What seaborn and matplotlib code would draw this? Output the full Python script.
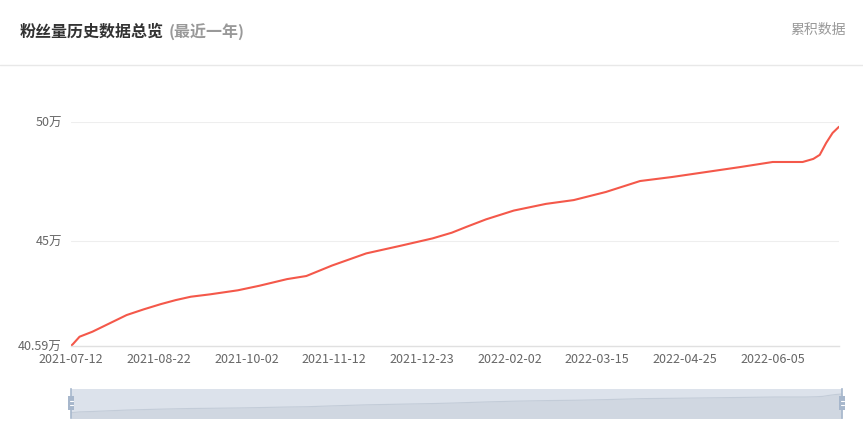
import pandas as pd
import matplotlib.pyplot as plt
import matplotlib.ticker as mticker
from matplotlib.patches import Rectangle
import seaborn as sns

# Data (fans, in 万)
dates = ['2021-07-12', '2021-07-13', '2021-07-16', '2021-07-22', '2021-07-30',
         '2021-08-07', '2021-08-15', '2021-08-23', '2021-08-30', '2021-09-06',
         '2021-09-15', '2021-09-28', '2021-10-08', '2021-10-21', '2021-10-30',
         '2021-11-11', '2021-11-27', '2021-12-13', '2021-12-28', '2022-01-06',
         '2022-01-13', '2022-01-22', '2022-02-04', '2022-02-19', '2022-03-04',
         '2022-03-19', '2022-04-04', '2022-04-19', '2022-05-05', '2022-05-21',
         '2022-06-05', '2022-06-19', '2022-06-24', '2022-06-27', '2022-06-30',
         '2022-07-03', '2022-07-06']
fans_wan = [40.59, 40.68, 40.98, 41.19, 41.54,
            41.89, 42.13, 42.35, 42.52, 42.66,
            42.76, 42.93, 43.12, 43.40, 43.53,
            43.97, 44.48, 44.80, 45.11, 45.35,
            45.60, 45.91, 46.28, 46.56, 46.72,
            47.06, 47.52, 47.69, 47.90, 48.11,
            48.32, 48.32, 48.45, 48.62, 49.12,
            49.54, 49.80]
tick_dates = ['2021-07-12', '2021-08-22', '2021-10-02', '2021-11-12', '2021-12-23',
              '2022-02-02', '2022-03-15', '2022-04-25', '2022-06-05']
y_ticks = [40.59, 45, 50]

title = '粉丝量历史数据总览'
subtitle = '(最近一年)'
right_label = '累积数据'

df = pd.DataFrame({'date': pd.to_datetime(dates), 'fans': fans_wan})

sns.set_theme(style='white')
plt.rcParams['font.family'] = ['Noto Sans CJK SC', 'DejaVu Sans']

W, H = 863, 437
fig = plt.figure(figsize=(W / 100, H / 100), dpi=100)

line_color = '#f4584a'

# main chart
ax = fig.add_axes([71 / W, 1 - 346 / H, (839 - 71) / W, (346 - 122) / H])
sns.lineplot(data=df, x='date', y='fans', ax=ax, color=line_color, linewidth=1.5)
ax.set_xlim(df['date'].iloc[0], df['date'].iloc[-1])
ax.set_ylim(40.59, 50)
ax.set_yticks(y_ticks)
ax.yaxis.set_major_formatter(mticker.FuncFormatter(
    lambda v, p: f'{v:g}万'))
ax.set_xticks(pd.to_datetime(tick_dates))
ax.set_xticklabels(tick_dates)
ax.tick_params(axis='both', length=0, labelsize=9, labelcolor='#666666')
ax.tick_params(axis='x', pad=5)
ax.tick_params(axis='y', pad=6.5)
ax.set_xlabel('')
ax.set_ylabel('')
for side in ['top', 'right', 'left']:
    ax.spines[side].set_visible(False)
ax.spines['bottom'].set_color('#e0e0e0')
ax.spines['bottom'].set_linewidth(1)
for v in y_ticks[1:]:
    ax.axhline(v, color='#eeeeee', linewidth=0.8, zorder=0)

# header
fig.text(20 / W, 1 - 32 / H, title, fontsize=11.5, fontweight='bold',
         color='#333333', va='center', ha='left')
fig.text(169 / W, 1 - 32 / H, subtitle, fontsize=11.5, fontweight='bold',
         color='#999999', va='center', ha='left')
fig.text(846 / W, 1 - 30 / H, right_label, fontsize=10, color='#999999',
         va='center', ha='right')
fig.add_artist(plt.Line2D([0, 1], [1 - 65 / H, 1 - 65 / H],
                          transform=fig.transFigure, color='#e8e8e8', linewidth=1))

# data zoom slider
sax = fig.add_axes([71 / W, 1 - 418 / H, (842 - 71) / W, 29 / H])
sax.set_facecolor('#dce2eb')
sns.lineplot(data=df, x='date', y='fans', ax=sax, color='#c3ccd8', linewidth=0.8)
sax.fill_between(df['date'], df['fans'], 30, color='#d0d7e1', linewidth=0)
sax.set_xlim(df['date'].iloc[0], df['date'].iloc[-1])
sax.set_ylim(37.98, 52.26)
sax.set_xticks([])
sax.set_yticks([])
sax.set_xlabel('')
sax.set_ylabel('')
for side in ['top', 'bottom']:
    sax.spines[side].set_visible(False)
for side in ['left', 'right']:
    sax.spines[side].set_color('#a7b7cc')
    sax.spines[side].set_linewidth(1.2)

for xh in [0, 1]:
    hx = xh - 3 / (842 - 71)
    r = Rectangle((hx, 0.28), 6 / (842 - 71), 0.48, transform=sax.transAxes,
                  facecolor='#a7b7cc', edgecolor='none', clip_on=False, zorder=5)
    sax.add_patch(r)
    for hy in [0.45, 0.6]:
        sax.plot([hx + 1.5 / 771, hx + 4.5 / 771], [hy, hy], transform=sax.transAxes,
                 color='white', linewidth=0.8, clip_on=False, zorder=6)

fig.savefig('out.png', dpi=100)
